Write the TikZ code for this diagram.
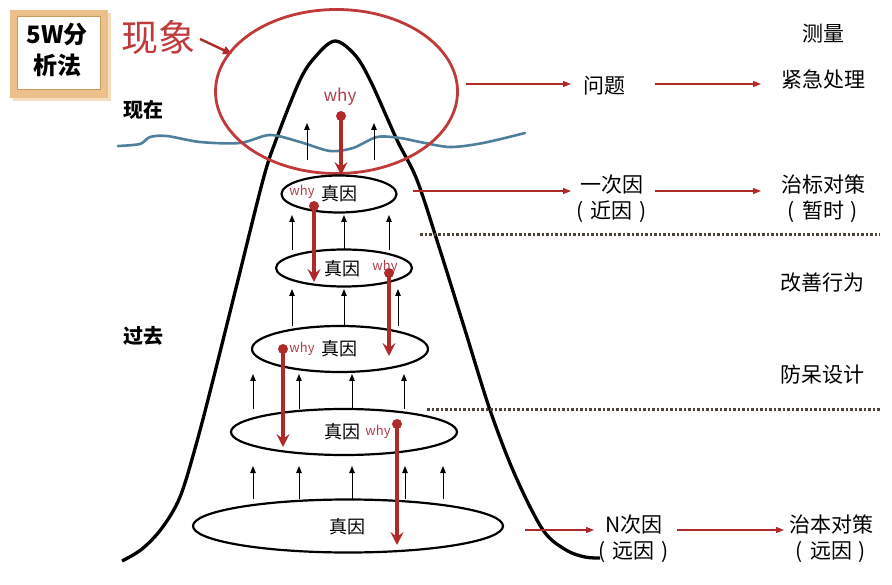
\documentclass[tikz,border=0pt]{standalone}
\usepackage{fontspec}
\setmainfont{Noto Sans CJK SC}
\usetikzlibrary{arrows.meta,shapes.geometric}
\definecolor{dred}{HTML}{B02A2A}
\definecolor{ered}{HTML}{C0393B}
\definecolor{whyc}{HTML}{B0404C}
\definecolor{wavec}{HTML}{4F7F9A}
\definecolor{tanc}{HTML}{EBC08A}
\definecolor{tand}{HTML}{C99A5E}
\definecolor{dotc}{HTML}{4A4438}
\begin{document}
\begin{tikzpicture}[x=1pt,y=-1pt,
  lbl/.style={font=\fontsize{21}{26}\selectfont, inner sep=0pt, align=center},
  zy/.style={font=\fontsize{18}{20}\selectfont, inner sep=0pt},
  why/.style={font=\fontsize{13}{15}\selectfont, inner sep=0pt, text=whyc},
  cause/.style={ellipse, draw, line width=2.2pt, inner sep=0pt},
  bigarr/.style={draw=dred, line width=3.2pt, -{Stealth[length=13pt,width=13pt,inset=5pt]}},
  uarr/.style={draw=black, line width=1pt, -{Triangle[length=7pt,width=5.5pt]}},
  rarr/.style={draw=dred, line width=1.1pt, -{Triangle[length=8pt,width=6pt]}},
  dotl/.style={draw=dotc, line width=3pt, dash pattern=on 2.5pt off 2pt},
  rdot/.style={fill=dred, draw=none, circle, minimum size=10pt, inner sep=0pt}
]
\useasboundingbox (0,0) rectangle (892,585);
\fill[white] (0,0) rectangle (892,585);

% 5W box
\fill[tanc!55] (13,13) rectangle (111,101);
\fill[tanc] (10,10) rectangle (108,98);
\filldraw[fill=white, draw=tand, line width=1pt] (17,17) rectangle (100,90);
\node[font=\fontsize{24}{31}\selectfont\bfseries, align=center, inner sep=0pt] (title) at (57,50) {5W分\\析法};

% phenomenon label
\node[font=\fontsize{37}{39}\selectfont, text=ered, inner sep=0pt] (phen) at (158,37) {现象};
\coordinate (pa) at (200,39);
\coordinate (pb) at (232,54);
\draw[draw=dred, line width=2.4pt, -{Triangle[length=9pt,width=8pt]}] (pa) -- (pb);

% time labels
\node[font=\fontsize{20}{22}\selectfont\bfseries, inner sep=0pt] (now) at (143,110) {现在};
\node[font=\fontsize{20}{22}\selectfont\bfseries, inner sep=0pt] (past) at (143,336) {过去};

% mountain
\draw[line width=3.3pt, line join=round] plot[smooth, tension=0.55] coordinates {
 (122,561) (142,549) (162,528) (180,497) (196,445) (213,380) (238,280) (263,180) (276,140)
 (300,80) (316,56) (335,41) (355,55) (371,82) (397,140) (417,180) (440,250)
 (465,330) (490,410) (515,475) (543,530) (566,550) (585,557) (600,558)};

% water line
\draw[wavec, line width=2.6pt, line cap=round] plot[smooth, tension=0.5] coordinates {
 (118,146) (140,144) (150,137) (167,136) (200,142) (240,143) (270,135) (300,142)
 (330,151) (353,148) (377,137) (400,138) (420,142) (450,147) (483,143) (525,133)};

% red ellipse
\node[ellipse, draw=ered, line width=2.8pt, minimum width=242pt, minimum height=164pt, inner sep=0pt] (e1) at (336.5,91.5) {};
\node[font=\fontsize{17}{19}\selectfont, text=whyc, inner sep=0pt] (w1) at (340,97) {why};

% cause ellipses
\node[cause, minimum width=115pt, minimum height=37pt] (e2) at (339,194) {};
\node[cause, minimum width=136pt, minimum height=37pt] (e3) at (344,268) {};
\node[cause, minimum width=176pt, minimum height=46pt] (e4) at (340,349) {};
\node[cause, minimum width=226pt, minimum height=46pt] (e5) at (344,432) {};
\node[cause, minimum width=310pt, minimum height=53pt] (e6) at (348,526) {};

\node[zy] (z2) at (339,194) {真因};
\node[why] (w2) at (302,192) {why};
\node[zy] (z3) at (342,269) {真因};
\node[why] (w3) at (385,267) {why};
\node[zy] (z4) at (339,349) {真因};
\node[why] (w4) at (302,349) {why};
\node[zy] (z5) at (342,432) {真因};
\node[why] (w5) at (378,432) {why};
\node[zy] (z6) at (347,527) {真因};

% black up arrows
\foreach \x/\n in {307/a,374/b} {
  \coordinate (u1\n s) at (\x,160); \coordinate (u1\n e) at (\x,123);
  \draw[uarr] (u1\n s) -- (u1\n e);}
\foreach \x/\n in {292/a,344/b,389/c} {
  \coordinate (u2\n s) at (\x,250); \coordinate (u2\n e) at (\x,215);
  \draw[uarr] (u2\n s) -- (u2\n e);}
\foreach \x/\n in {292/a,344/b,398/c} {
  \coordinate (u3\n s) at (\x,326); \coordinate (u3\n e) at (\x,289);
  \draw[uarr] (u3\n s) -- (u3\n e);}
\foreach \x/\n in {253/a,299/b,352/c,404/d} {
  \coordinate (u4\n s) at (\x,409); \coordinate (u4\n e) at (\x,374);
  \draw[uarr] (u4\n s) -- (u4\n e);}
\foreach \x/\n in {253/a,299/b,352/c,405/d,443/e} {
  \coordinate (u5\n s) at (\x,499); \coordinate (u5\n e) at (\x,466);
  \draw[uarr] (u5\n s) -- (u5\n e);}

% red why arrows
\node[rdot] (d1) at (341,116) {};
\coordinate (t1) at (341,175);
\draw[bigarr] (d1.center) -- (t1);
\node[rdot] (d2) at (314,206) {};
\coordinate (t2) at (314,282);
\draw[bigarr] (d2.center) -- (t2);
\node[rdot] (d3) at (389,273) {};
\coordinate (t3) at (389,356);
\draw[bigarr] (d3.center) -- (t3);
\node[rdot] (d4) at (283,349) {};
\coordinate (t4) at (283,447);
\draw[bigarr] (d4.center) -- (t4);
\node[rdot] (d5) at (397,424) {};
\coordinate (t5) at (397,545);
\draw[bigarr] (d5.center) -- (t5);

% right column
\node[lbl] (meas) at (823,34) {测量};
\node[lbl] (q) at (604,86) {问题};
\node[lbl] (urg) at (823,80) {紧急处理};
\node[lbl] (c1) at (612,199) {一次因\\(\hspace{7pt}近因\hspace{7pt})};
\node[lbl] (m1) at (823,199) {治标对策\\(\hspace{7pt}暂时\hspace{7pt})};
\node[lbl] (imp) at (822,283) {改善行为};
\node[lbl] (fool) at (822,375) {防呆设计};
\node[lbl] (cn) at (634,539) {N次因\\(\hspace{7pt}远因\hspace{7pt})};
\node[lbl] (mn) at (831,539) {治本对策\\(\hspace{7pt}远因\hspace{7pt})};

\coordinate (r1a) at (466,84); \coordinate (r1b) at (571,84);
\coordinate (r2a) at (655,84); \coordinate (r2b) at (761,84);
\coordinate (r3a) at (413,191); \coordinate (r3b) at (571,191);
\coordinate (r4a) at (655,191); \coordinate (r4b) at (761,191);
\coordinate (r5a) at (525,530); \coordinate (r5b) at (594,530);
\coordinate (r6a) at (677,530); \coordinate (r6b) at (784,530);
\draw[rarr] (r1a) -- (r1b);
\draw[rarr] (r2a) -- (r2b);
\draw[rarr] (r3a) -- (r3b);
\draw[rarr] (r4a) -- (r4b);
\draw[rarr] (r5a) -- (r5b);
\draw[rarr] (r6a) -- (r6b);

% dotted separators
\coordinate (s1a) at (420,235); \coordinate (s1b) at (880,235);
\coordinate (s2a) at (427,409); \coordinate (s2b) at (880,409);
\draw[dotl] (s1a) -- (s1b);
\draw[dotl] (s2a) -- (s2b);
\end{tikzpicture}
\end{document}
